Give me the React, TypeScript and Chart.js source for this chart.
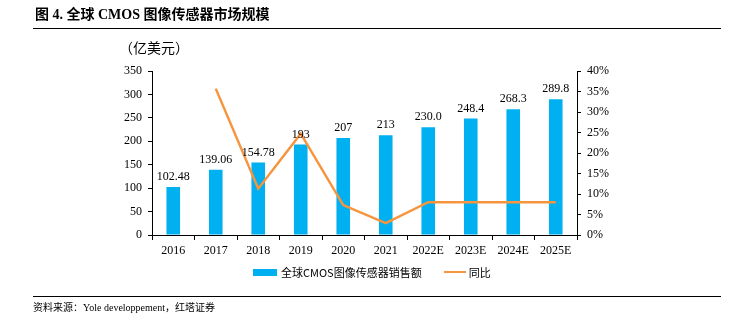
import React, { useEffect, useRef } from "react";
import { Chart, registerables } from "chart.js";

Chart.register(...registerables);

const categories = ["2016", "2017", "2018", "2019", "2020", "2021", "2022E", "2023E", "2024E", "2025E"];
const salesValues = [102.48, 139.06, 154.78, 193, 207, 213, 230.0, 248.4, 268.3, 289.8];
const salesLabels = ["102.48", "139.06", "154.78", "193", "207", "213", "230.0", "248.4", "268.3", "289.8"];
const yoyValues = [null, 35.7, 11.3, 24.7, 7.3, 2.9, 8.0, 8.0, 8.0, 8.0];

const BAR_COLOR = "#00B0F0";
const LINE_COLOR = "#F7953E";
const SERIF = "'Liberation Serif', 'Times New Roman', serif";

const barLabelPlugin = {
  id: "barLabels",
  afterDatasetsDraw(chart: any) {
    const ctx = chart.ctx;
    const meta = chart.getDatasetMeta(0);
    ctx.save();
    ctx.font = `12px ${SERIF}`;
    ctx.fillStyle = "#000";
    ctx.textAlign = "center";
    ctx.textBaseline = "bottom";
    meta.data.forEach((el: any, i: number) => {
      ctx.fillText(salesLabels[i], el.x, el.y - 4);
    });
    ctx.restore();
  },
};

export default function App() {
  const ref = useRef<HTMLCanvasElement | null>(null);

  useEffect(() => {
    if (!ref.current) return;
    const chart = new Chart(ref.current, {
      type: "bar",
      data: {
        labels: categories,
        datasets: [
          {
            type: "bar",
            label: "全球CMOS图像传感器销售额",
            data: salesValues,
            backgroundColor: BAR_COLOR,
            borderWidth: 0,
            barPercentage: 0.32,
            categoryPercentage: 1,
            yAxisID: "y",
            order: 2,
          },
          {
            type: "line",
            label: "同比",
            data: yoyValues as any,
            borderColor: LINE_COLOR,
            backgroundColor: LINE_COLOR,
            borderWidth: 2.5,
            pointRadius: 0,
            tension: 0,
            yAxisID: "y1",
            order: 1,
          },
        ],
      },
      options: {
        responsive: false,
        animation: false,
        devicePixelRatio: 1,
        layout: { padding: { top: 71, left: 0, right: 0, bottom: 0 } },
        plugins: { legend: { display: false }, tooltip: { enabled: false } },
        scales: {
          x: {
            grid: { display: true, drawOnChartArea: false, drawTicks: true, tickLength: 5, color: "#000", offset: true },
            border: { display: true, color: "#000", width: 1 },
            ticks: { color: "#000", font: { family: SERIF, size: 12 }, padding: 4, maxRotation: 0, autoSkip: false },
            afterFit: (s: any) => { s.height = 86; },
          },
          y: {
            position: "left",
            min: 0,
            max: 350,
            ticks: { stepSize: 50, color: "#000", font: { family: SERIF, size: 12 }, padding: 6 },
            grid: { display: true, drawOnChartArea: false, drawTicks: true, tickLength: 4, color: "#000" },
            border: { display: true, color: "#000", width: 1 },
            afterFit: (s: any) => { s.width = 152; },
          },
          y1: {
            position: "right",
            min: 0,
            max: 40,
            ticks: { stepSize: 5, color: "#000", font: { family: SERIF, size: 12 }, padding: 6, callback: (v: any) => v + "%" },
            grid: { display: true, drawOnChartArea: false, drawTicks: true, tickLength: 4, color: "#000" },
            border: { display: true, color: "#000", width: 1 },
            afterFit: (s: any) => { s.width = 169; },
          },
        },
      },
      plugins: [barLabelPlugin],
    });
    return () => chart.destroy();
  }, []);

  return (
    <div style={{ position: "fixed", left: 0, top: 0, width: 746, height: 321, background: "#fff", overflow: "hidden" }}>
      <canvas ref={ref} width={746} height={321} style={{ position: "absolute", left: 0, top: 0, width: 746, height: 321 }} />
      <div style={{ position: "absolute", left: 35, top: 5, fontFamily: `${SERIF}, 'Noto Sans CJK SC'`, fontWeight: "bold", fontSize: 14, color: "#000", whiteSpace: "nowrap", lineHeight: "19px" }}>
        图 4. 全球 CMOS 图像传感器市场规模
      </div>
      <div style={{ position: "absolute", left: 33, top: 28, width: 688, height: 1, background: "#000" }} />
      <div style={{ position: "absolute", left: 119, top: 38, fontFamily: "'Noto Sans CJK SC', sans-serif", fontSize: 14, color: "#000", whiteSpace: "nowrap", lineHeight: "19px" }}>
        （亿美元）
      </div>
      <div style={{ position: "absolute", left: 253, top: 264, display: "flex", alignItems: "center", fontFamily: "'Noto Sans CJK SC', sans-serif", fontSize: 11, color: "#000", whiteSpace: "nowrap", height: 16 }}>
        <span style={{ display: "inline-block", width: 24, height: 7, background: BAR_COLOR, marginRight: 4 }} />
        <span>全球CMOS图像传感器销售额</span>
        <span style={{ display: "inline-block", width: 22, height: 2.5, background: LINE_COLOR, marginLeft: 22, marginRight: 3 }} />
        <span>同比</span>
      </div>
      <div style={{ position: "absolute", left: 33, top: 296, width: 688, height: 1, background: "#000" }} />
      <div style={{ position: "absolute", left: 33, top: 300, fontFamily: `${SERIF}, 'Noto Sans CJK SC'`, fontSize: 10, color: "#000", whiteSpace: "nowrap", lineHeight: "15px" }}>
        资料来源：Yole developpement，红塔证券
      </div>
    </div>
  );
}
